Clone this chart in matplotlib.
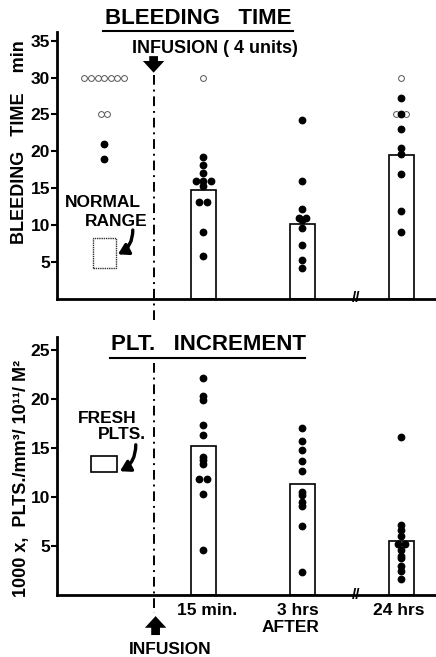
import numpy as np
import matplotlib
matplotlib.use("Agg")
import matplotlib.pyplot as plt

plt.rcParams['font.family'] = ['Liberation Sans', 'DejaVu Sans']
plt.rcParams['font.weight'] = 'bold'

# x slots: pre-infusion, 15 min, 3 hrs, 24 hrs
x_pre = 0.0
x_inf = 0.5
x_after = [1.0, 2.0, 3.0]
after_labels = ['15 min.', '3 hrs', '24 hrs']

# bleeding time (min)
bt_pre_open = [30, 30, 30, 30, 30, 30, 30, 25, 25]
bt_pre_fill = [21.0, 18.9]
bt_open = [[30], [], [30, 25.1, 25.1]]
bt_fill = [
    [19.2, 18.2, 17.1, 15.9, 15.9, 15.9, 15.3, 13.1, 13.1, 9.1, 5.8],
    [24.3, 15.9, 12.1, 11.0, 11.0, 10.7, 9.6, 7.2, 5.2, 4.2],
    [27.2, 25.1, 23.0, 20.4, 19.6, 16.9, 11.9, 9.0],
]
bt_mean = [14.7, 10.1, 19.5]
normal_range = (4.1, 8.2)

# platelet increment
plt_fill = [
    [22.1, 20.3, 19.9, 17.3, 16.3, 14.1, 13.7, 13.3, 11.8, 11.8, 10.3, 4.6],
    [17.0, 15.7, 14.8, 13.6, 12.6, 10.5, 10.2, 9.5, 9.1, 7.0, 2.3],
    [16.1, 7.1, 6.6, 6.0, 5.2, 5.2, 4.6, 4.0, 3.7, 2.9, 2.4, 1.6],
]
plt_mean = [15.2, 11.3, 5.5]
fresh_range = (12.5, 14.2)


def spread(center, vals, step=0.075):
    # points with the same value sit side by side
    xs = []
    seen = {}
    for v in vals:
        seen[v] = seen.get(v, 0) + 1
    idx = {}
    for v in vals:
        n = seen[v]
        i = idx.get(v, 0)
        idx[v] = i + 1
        xs.append(center + (i - (n - 1) / 2) * step)
    return xs


def style_axes(ax, ymax, ticks):
    ax.set_xlim(-0.475, 3.35)
    ax.set_ylim(0, ymax)
    for s in ['top', 'right']:
        ax.spines[s].set_visible(False)
    ax.spines['left'].set_linewidth(2)
    ax.spines['bottom'].set_linewidth(2)
    ax.set_xticks([])
    ax.set_yticks(ticks)
    ax.tick_params(axis='y', direction='out', length=4, width=1.5, labelsize=12.5, pad=1)
    ax.patch.set_alpha(0)


def dots_open(ax, x, y):
    ax.plot(x, y, 'o', ms=4.2, mfc='white', mec='#555555', mew=0.7, ls='none', zorder=4, clip_on=False)


def dots_fill(ax, x, y):
    ax.plot(x, y, 'o', ms=4.6, color='black', ls='none', zorder=5, clip_on=False)


def curved_arrow(ax, start, end):
    ax.annotate('', xy=end, xytext=start,
                arrowprops=dict(arrowstyle='-|>,head_width=0.3,head_length=0.5', lw=2.4, color='black',
                                mutation_scale=12, shrinkA=0, shrinkB=0,
                                connectionstyle='arc3,rad=-0.3'))


def break_mark(ax):
    ax.text(2.545, 0, '//', ha='center', va='center', fontsize=11, clip_on=False)


fig = plt.figure(figsize=(4.36, 6.57), dpi=100)
W, H = 436, 657
ax1 = fig.add_axes([57 / W, (H - 298.5) / H, 379 / W, (298.5 - 32) / H])
ax2 = fig.add_axes([57 / W, (H - 594.7) / H, 379 / W, (594.7 - 337) / H])
style_axes(ax1, 36.2, [5, 10, 15, 20, 25, 30, 35])
style_axes(ax2, 26.3, [5, 10, 15, 20, 25])

bw = 0.25
# ---- bleeding time ----
ax1.bar(x_after, bt_mean, width=bw, color='white', edgecolor='black', lw=1.2, zorder=2)
dots_open(ax1, spread(x_pre, bt_pre_open, step=0.066), bt_pre_open)
dots_fill(ax1, spread(x_pre, bt_pre_fill), bt_pre_fill)
for i, xc in enumerate(x_after):
    if bt_open[i]:
        xo = spread(xc, bt_open[i], step=0.1)
        dots_open(ax1, xo, bt_open[i])
    dots_fill(ax1, spread(xc, bt_fill[i]), bt_fill[i])
ax1.add_patch(plt.Rectangle((-0.11, normal_range[0]), 0.23, normal_range[1] - normal_range[0],
                            fill=False, ec='#333333', lw=1.0, ls=(0, (1, 0.6)), zorder=3))
ax1.text(-0.01, 13.1, 'NORMAL', ha='center', va='center', fontsize=12.5)
ax1.text(0.12, 10.5, 'RANGE', ha='center', va='center', fontsize=12.5)
curved_arrow(ax1, (0.29, 9.3), (0.14, 6.0))
ax1.plot([x_inf, x_inf], [30.4, -3.2], color='black', lw=1.4, ls=(0, (5, 2.5, 1, 2.5)), clip_on=False, zorder=1)
ax1.annotate('', xy=(x_inf, 30.3), xytext=(x_inf, 33.3), annotation_clip=False,
             arrowprops=dict(arrowstyle='simple,head_length=0.6,head_width=1.1,tail_width=0.45',
                             mutation_scale=14, color='black', lw=0))
ax1.text(1.12, 34.0, 'INFUSION ( 4 units)', ha='center', va='center', fontsize=13)
ax1.text(0.95, 38.1, 'BLEEDING   TIME', ha='center', va='center', fontsize=16, clip_on=False)
ax1.plot([-0.01, 1.91], [36.3, 36.3], color='black', lw=1.5, clip_on=False)
break_mark(ax1)

# ---- platelet increment ----
ax2.bar(x_after, plt_mean, width=bw, color='white', edgecolor='black', lw=1.2, zorder=2)
for i, xc in enumerate(x_after):
    dots_fill(ax2, spread(xc, plt_fill[i]), plt_fill[i])
ax2.add_patch(plt.Rectangle((-0.13, fresh_range[0]), 0.26, fresh_range[1] - fresh_range[0],
                            fill=False, ec='black', lw=1.2, zorder=3))
ax2.text(0.03, 18.0, 'FRESH', ha='center', va='center', fontsize=12.5)
ax2.text(0.18, 16.3, 'PLTS.', ha='center', va='center', fontsize=12.5)
curved_arrow(ax2, (0.32, 15.3), (0.16, 12.6))
ax2.plot([x_inf, x_inf], [23.6, -1.9], color='black', lw=1.4, ls=(0, (5, 2.5, 1, 2.5)), clip_on=False, zorder=1)
ax2.annotate('', xy=(x_inf + 0.02, -1.9), xytext=(x_inf + 0.02, -4.4), annotation_clip=False,
             arrowprops=dict(arrowstyle='simple,head_length=0.6,head_width=1.1,tail_width=0.45',
                             mutation_scale=14, color='black', lw=0))
ax2.text(x_inf + 0.17, -5.6, 'INFUSION', ha='center', va='center', fontsize=12.5, clip_on=False)
ax2.text(1.05, 25.5, 'PLT.   INCREMENT', ha='center', va='center', fontsize=16, clip_on=False)
ax2.plot([0.06, 2.03], [24.2, 24.2], color='black', lw=1.5, clip_on=False)
break_mark(ax2)
ax2.text(1.04, -1.6, after_labels[0], ha='center', va='center', fontsize=12.5, clip_on=False)
ax2.text(1.96, -1.6, after_labels[1], ha='center', va='center', fontsize=12.5, clip_on=False)
ax2.text(1.88, -3.3, 'AFTER', ha='center', va='center', fontsize=12.5, clip_on=False)
ax2.text(2.97, -1.6, after_labels[2], ha='center', va='center', fontsize=12.5, clip_on=False)

fig.text(20 / W, 1 - 142 / H, 'BLEEDING   TIME    min', rotation=90, ha='center', va='center', fontsize=13)
fig.text(22 / W, 1 - 478 / H, '1000 x,  PLTS./mm³/ 10¹¹/ M²', rotation=90, ha='center', va='center', fontsize=13)

fig.savefig('out.png', dpi=100)
